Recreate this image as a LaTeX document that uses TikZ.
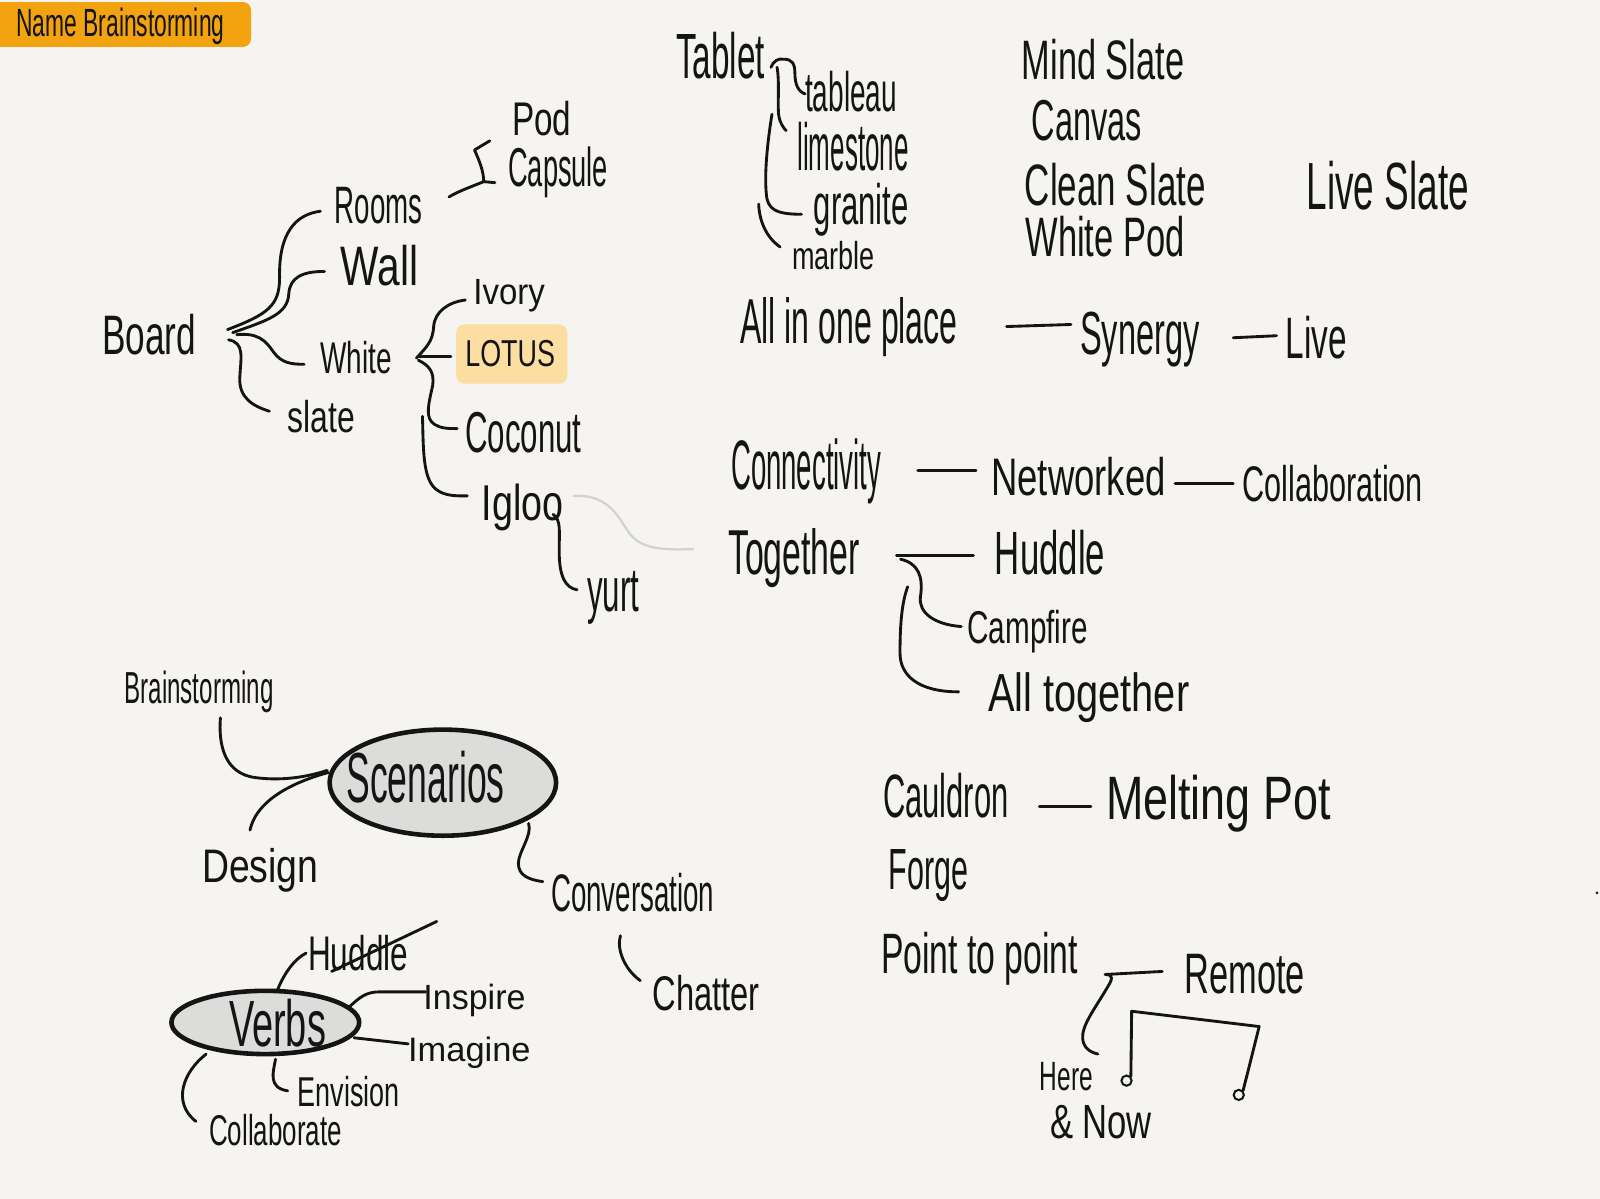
\documentclass[tikz,border=0pt]{standalone}
\usepackage{fontspec}
\usepackage{graphicx}
\setmainfont{Liberation Sans}
\usetikzlibrary{shapes.geometric,calc}
\definecolor{bg}{HTML}{F5F4F0}
\definecolor{banner}{HTML}{F2A30F}
\definecolor{lotusbg}{HTML}{FCDDA2}
\definecolor{ellfill}{HTML}{DCDCDA}
\definecolor{faint}{HTML}{D2D2D0}
\definecolor{ink}{HTML}{141414}
\newcommand\hwt[3]{\resizebox*{#1pt}{#2pt}{#3}}
\begin{document}
\begin{tikzpicture}[x=1pt,y=-1pt,
  hw/.style={inner sep=0pt,outer sep=0pt,text=ink},
  con/.style={draw=ink,line width=2.8pt,line cap=round,line join=round},
  bubble/.style={ellipse,draw=ink,line width=4.5pt,fill=ellfill,inner sep=0pt},
  dotnode/.style={circle,draw=ink,line width=2pt,minimum size=10pt,inner sep=0pt}]
\fill[bg] (0,0) rectangle (1568,1175);
\useasboundingbox (0,0) rectangle (1568,1175);
% banner
\fill[banner] (0,2) rectangle (230,46);
\fill[banner, rounded corners=8pt] (200,2) rectangle (246,46);
\node[hw] (title) at (118,26) {\hwt{204}{36}{Name Brainstorming}};

% upper-left tree
\node[hw] (board) at (146,328) {\hwt{92}{40}{Board}};
\node[hw] (rooms) at (371,202) {\hwt{86}{36}{Rooms}};
\node[hw] (wall) at (372,260) {\hwt{76}{40}{Wall}};
\node[hw] (white) at (349,350) {\hwt{70}{32}{White}};
\node[hw] (slate) at (315,408) {\hwt{66}{32}{slate}};
\node[hw] (pod) at (531,116) {\hwt{58}{34}{Pod}};
\node[hw] (capsule) at (547,169) {\hwt{98}{50}{Capsule}};
\node[hw] (ivory) at (499,290) {\hwt{70}{32}{Ivory}};
\node[fill=lotusbg, rounded corners=8pt, minimum width=109pt, minimum height=58pt, inner sep=0pt] (lotusbox) at (501.5,347) {};
\node[hw] (lotus) at (500,347) {\hwt{88}{26}{LOTUS}};
\node[hw] (coconut) at (513,424) {\hwt{114}{40}{Coconut}};
\node[hw] (igloo) at (512,497) {\hwt{80}{46}{Igloo}};
\node[hw] (yurt) at (601,586) {\hwt{51}{52}{yurt}};

\draw[con] ($(board.east)+(31,-5)$) .. controls (262,308) and (274,300) .. (274,272) .. controls (273,228) and (290,210) .. ($(rooms.west)+(-14,5)$);
\draw[con] ($(board.east)+(36,-2)$) .. controls (262,314) and (282,308) .. (283,288) .. controls (284,272) and (296,266) .. ($(wall.west)+(-16,6)$);
\draw[con] ($(board.east)+(40,0)$) .. controls (252,326) and (260,333) .. (268,345) .. controls (276,356) and (286,357) .. ($(white.west)+(-16,7)$);
\draw[con] ($(board.east)+(32,5)$) .. controls (240,336) and (236,350) .. (235,370) .. controls (234,390) and (248,398) .. ($(slate.west)+(-18,-5)$);
\draw[con] ($(pod.west)+(-22,22)$) -- (465,147) .. controls (470,158) and (474,168) .. (474,178) .. controls (462,183) and (450,187) .. ($(rooms.east)+(26,-9)$);
\draw[con] ($(capsule.west)+(-13,10)$) -- (474,178);
\draw[con] ($(white.east)+(24,1)$) .. controls (418,340) and (424,335) .. (425,320) .. controls (426,305) and (440,296) .. ($(ivory.west)+(-8,4)$);
\draw[con] ($(white.east)+(26,-1)$) -- ($(lotusbox.west)+(-5,2)$);
\draw[con] ($(white.east)+(26,3)$) .. controls (420,358) and (426,364) .. (424,378) .. controls (420,396) and (416,410) .. (426,416) .. controls (432,420) and (440,420) .. ($(coconut.west)+(-8,-4)$);
\draw[con] ($(white.east)+(30,58)$) .. controls (415,440) and (414,470) .. (428,480) .. controls (436,486) and (446,486) .. ($(igloo.west)+(-14,-11)$);
\draw[con] ($(igloo.east)+(-10,7)$) .. controls (550,510) and (548,520) .. (548,540) .. controls (548,565) and (554,576) .. ($(yurt.west)+(-10,-8)$);

% tablet group
\node[hw] (tablet) at (706,55) {\hwt{87}{46}{Tablet}};
\node[hw] (tableau) at (834,90) {\hwt{90}{40}{tableau}};
\node[hw] (limestone) at (836,144) {\hwt{109}{48}{limestone}};
\node[hw] (granite) at (844,206) {\hwt{93}{52}{granite}};
\node[hw] (marble) at (817,250) {\hwt{81}{28}{marble}};
\draw[con] ($(tablet.east)+(6,11)$) .. controls (758,60) and (762,57) .. (768,58) .. controls (776,58) and (779,62) .. (779,72) .. controls (779,82) and (782,90) .. ($(tableau.west)+(0,2)$);
\draw[con] ($(tablet.east)+(12,11)$) .. controls (764,80) and (762,100) .. (763,112) .. controls (764,120) and (768,126) .. ($(limestone.west)+(-11,-16)$);
\draw[con] ($(tablet.east)+(7,57)$) .. controls (752,140) and (749,170) .. (751,190) .. controls (752,205) and (760,210) .. ($(granite.west)+(-12,4)$);
\draw[con] ($(marble.west)+(-12,-8)$) .. controls (750,232) and (744,215) .. ($(tablet.east)+(-6,145)$);

% name list
\node[hw] (mindslate) at (1081,58) {\hwt{159}{40}{Mind Slate}};
\node[hw] (canvas) at (1065,118) {\hwt{108}{40}{Canvas}};
\node[hw] (cleanslate) at (1093,181) {\hwt{177}{42}{Clean Slate}};
\node[hw] (whitepod) at (1083,232) {\hwt{156}{40}{White Pod}};
\node[hw] (liveslate) at (1360,182) {\hwt{159}{48}{Live Slate}};

% chains
\node[hw] (allinone) at (832,321) {\hwt{213}{58}{All in one place}};
\node[hw] (synergy) at (1117,333) {\hwt{117}{54}{Synergy}};
\node[hw] (live) at (1290,331) {\hwt{60}{42}{Live}};
\draw[con] ($(allinone.east)+(48,-1)$) -- ($(synergy.west)+(-9,-15)$);
\draw[con] ($(synergy.east)+(33,-2)$) -- ($(live.west)+(-9,-2)$);

\node[hw] (connectivity) at (790,462) {\hwt{147}{64}{Connectivity}};
\node[hw] (networked) at (1057,467) {\hwt{171}{38}{Networked}};
\node[hw] (collaboration) at (1306,474) {\hwt{177}{36}{Collaboration}};
\draw[con] ($(connectivity.east)+(36,-1)$) -- ($(networked.west)+(-15,-6)$);
\draw[con] ($(networked.east)+(9,7)$) -- ($(collaboration.west)+(-9,0)$);

\node[hw] (together) at (778,547) {\hwt{129}{58}{Together}};
\node[hw] (huddle) at (1029,542) {\hwt{108}{44}{Huddle}};
\node[hw] (campfire) at (1007,619) {\hwt{118}{42}{Campfire}};
\node[hw] (alltogether) at (1067,684) {\hwt{197}{49}{All together}};
\draw[con, draw=faint, line width=2.2pt] ($(igloo.east)+(10,-11)$) .. controls (595,484) and (605,505) .. (615,520) .. controls (625,535) and (640,540) .. ($(together.west)+(-34,-9)$);
\draw[con] ($(together.east)+(36,-3)$) -- ($(huddle.west)+(-21,2)$);
\draw[con] ($(together.east)+(40,1)$) .. controls (900,552) and (905,565) .. (902,585) .. controls (900,600) and (915,612) .. ($(campfire.west)+(-6,-5)$);
\draw[con] ($(together.east)+(47,28)$) .. controls (884,590) and (882,610) .. (882,640) .. controls (882,662) and (900,678) .. ($(alltogether.west)+(-29,-6)$);

\node[hw] (cauldron) at (927,780) {\hwt{123}{44}{Cauldron}};
\node[hw] (meltingpot) at (1194,788) {\hwt{220}{56}{Melting Pot}};
\draw[con] ($(cauldron.east)+(30,10)$) -- ($(meltingpot.west)+(-15,2)$);
\node[hw] (forge) at (910,858) {\hwt{78}{51}{Forge}};
\node[hw] (p2p) at (960,940) {\hwt{193}{52}{Point to point}};
\node[hw] (remote) at (1220,955) {\hwt{118}{39}{Remote}};
\node[hw] (here) at (1045,1055) {\hwt{52}{28}{Here}};
\node[hw] (andnow) at (1079,1100) {\hwt{100}{33}{\& Now}};
\draw[con] ($(remote.west)+(-22,-3)$) -- (1083,955) .. controls (1092,955) and (1090,960) .. (1085,968) .. controls (1072,990) and (1060,1005) .. (1061,1018) .. controls (1062,1027) and (1068,1031) .. ($(here.north)+(31,-8)$);
\node[dotnode] (dot1) at (1104,1059) {};
\node[dotnode] (dot2) at (1214,1073) {};
\draw[con] (dot1.north east) -- (1109,991) -- (1234,1006) -- (dot2.north east);
\node[circle,fill=ink,inner sep=1pt] (mark) at (1565,875) {};

% scenarios
\node[bubble, minimum width=222pt, minimum height=104pt] (scen) at (434,767) {};
\node[hw] (scentext) at (417,762) {\hwt{155}{51}{Scenarios}};
\node[hw] (brainstorming) at (195,678) {\hwt{146}{41}{Brainstorming}};
\node[hw] (design) at (255,853) {\hwt{114}{43}{Design}};
\node[hw] (conversation) at (620,875) {\hwt{160}{38}{Conversation}};
\node[hw] (chatter) at (692,973) {\hwt{105}{35}{Chatter}};
\draw[con] ($(brainstorming.south)+(21,5)$) .. controls (214,730) and (220,758) .. (250,762) .. controls (280,766) and (305,760) .. ($(scen.west)+(0,-12)$);
\draw[con] ($(design.north)+(-10,-18)$) .. controls (250,790) and (275,770) .. ($(scen.west)+(1,-10)$);
\draw[con] ($(scen.center)+(84,40)$) .. controls (522,818) and (508,835) .. (508,846) .. controls (508,858) and (518,862) .. ($(conversation.west)+(-8,-11)$);
\draw[con] ($(conversation.south)+(-12,23)$) .. controls (604,930) and (612,950) .. ($(chatter.west)+(-12,-12)$);

% verbs
\node[bubble, minimum width=184pt, minimum height=62pt] (verbs) at (260,1002) {};
\node[hw] (verbstext) at (272,1003) {\hwt{95}{47}{Verbs}};
\node[hw] (huddle2) at (351,934) {\hwt{98}{35}{Huddle}};
\node[hw] (inspire) at (465,980) {\hwt{100}{32}{Inspire}};
\node[hw] (imagine) at (460,1032) {\hwt{120}{31}{Imagine}};
\node[hw] (envision) at (342,1070) {\hwt{100}{30}{Envision}};
\node[hw] (collaborate) at (270,1107) {\hwt{130}{31}{Collaborate}};
\draw[con] ($(huddle2.center)+(-26,18)$) -- ($(huddle2.center)+(77,-31)$);
\draw[con] ($(verbs.center)+(12,-32)$) .. controls (278,955) and (288,940) .. ($(huddle2.west)+(-2,0)$);
\draw[con] ($(verbs.center)+(82,-15)$) .. controls (352,978) and (358,972) .. (372,972) -- ($(inspire.west)+(2,-8)$);
\draw[con] ($(verbs.center)+(87,15)$) -- ($(imagine.west)+(0,-9)$);
\draw[con] ($(verbs.center)+(10,36)$) .. controls (268,1050) and (262,1066) .. ($(envision.west)+(-10,-1)$);
\draw[con] ($(verbs.center)+(-58,31)$) .. controls (180,1050) and (168,1080) .. ($(collaborate.west)+(-13,-8)$);
\end{tikzpicture}
\end{document}
